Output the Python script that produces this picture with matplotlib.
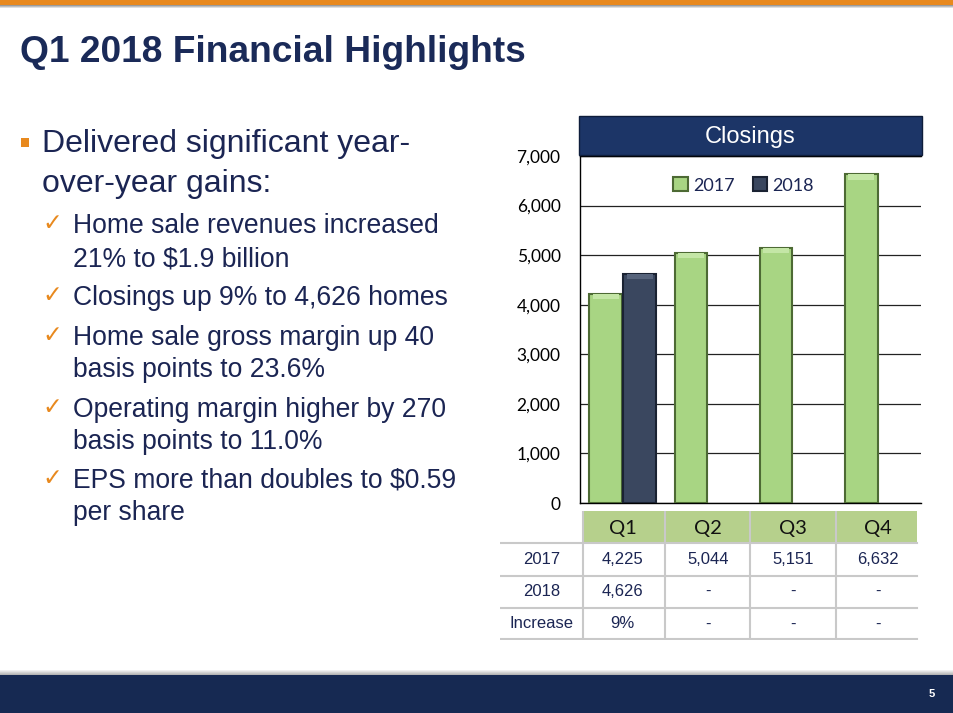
import numpy as np
import matplotlib
matplotlib.use("Agg")
import matplotlib.pyplot as plt
from matplotlib.patches import Rectangle

# data
quarters = ["Q1", "Q2", "Q3", "Q4"]
closings_2017 = [4225, 5044, 5151, 6632]
closings_2018 = [4626, None, None, None]
y_ticks = [0, 1000, 2000, 3000, 4000, 5000, 6000, 7000]

title = "Q1 2018 Financial Highlights"
main_bullet = ["Delivered significant year-", "over-year gains:"]
sub_bullets = [
    ["Home sale revenues increased", "21% to $1.9 billion"],
    ["Closings up 9% to 4,626 homes"],
    ["Home sale gross margin up 40", "basis points to 23.6%"],
    ["Operating margin higher by 270", "basis points to 11.0%"],
    ["EPS more than doubles to $0.59", "per share"],
]

NAVY = "#1b2553"
ORANGE = "#e8891e"
GREEN = "#a8d583"
GREEN_TOP = "#c4e6a6"
GREEN_EDGE = "#4d6a34"
DARK = "#3a475f"
DARK_TOP = "#56637b"
DARK_EDGE = "#1a2232"

W, H = 954, 713
fig = plt.figure(figsize=(W / 100, H / 100), dpi=100)
fig.patch.set_facecolor("white")


def fx(x):
    return x / W


def fy(y):
    return 1 - y / H


def frect(x0, y0, x1, y1, **kw):
    fig.patches.append(Rectangle((fx(x0), fy(y1)), fx(x1) - fx(x0), fy(y0) - fy(y1),
                                 transform=fig.transFigure, **kw))


# top orange band + shadow
frect(0, 0, W, 5, facecolor=ORANGE, edgecolor="none")
for i, c in enumerate(["#9a9a9a", "#bdbdbd", "#dedede"]):
    frect(0, 5 + i, W, 6 + i, facecolor=c, edgecolor="none")

# bottom navy band + shadow
for i, c in enumerate(["#f0f0f0", "#e2e2e2", "#d2d2d2", "#c4c4c4", "#b5b5b5"]):
    frect(0, 670 + i, W, 671 + i, facecolor=c, edgecolor="none")
frect(0, 675, W, H, facecolor="#162952", edgecolor="none")
fig.text(fx(932), fy(694), "5", color="white", fontsize=8, fontweight="bold",
         ha="center", va="center", family="Liberation Sans")

# title
fig.text(fx(20), fy(62), title, color="#1a2a58", fontsize=26.7, fontweight="bold",
         family="Liberation Sans", ha="left", va="baseline")

# bullets
frect(21, 138, 29, 147, facecolor=ORANGE, edgecolor="none")
main_y = [152, 192]
for txt, yb in zip(main_bullet, main_y):
    fig.text(fx(42), fy(yb), txt, color=NAVY, fontsize=23, family="Liberation Sans",
             ha="left", va="baseline")

sub_y = [[233, 266], [305], [345, 377], [417, 449], [488, 520]]
for lines, ys in zip(sub_bullets, sub_y):
    fig.text(fx(42), fy(ys[0] - 3), "\u2713", color=ORANGE, fontsize=17,
             family="DejaVu Sans", ha="left", va="baseline")
    for txt, yb in zip(lines, ys):
        fig.text(fx(73), fy(yb), txt, color=NAVY, fontsize=19.1, family="Liberation Sans",
                 ha="left", va="baseline")

# chart
ax = fig.add_axes([fx(580), fy(503), fx(921) - fx(580), fy(156) - fy(503)])
x = np.arange(len(quarters))
bw = 0.38
ax.bar(x - 0.2, closings_2017, width=bw, color=GREEN, edgecolor=GREEN_EDGE,
       linewidth=1.5, label="2017", zorder=3)
# bevel highlight on top of each bar
cap = 110
ax.bar(x - 0.2, [cap] * len(x), bottom=np.array(closings_2017) - cap, width=bw * 0.8,
       color=GREEN_TOP, edgecolor="none", zorder=4)
x18 = [xi for xi, v in zip(x, closings_2018) if v is not None]
v18 = [v for v in closings_2018 if v is not None]
ax.bar(np.array(x18) + 0.2, v18, width=bw, color=DARK, edgecolor=DARK_EDGE,
       linewidth=1.5, label="2018", zorder=3)
ax.bar(np.array(x18) + 0.2, [cap] * len(v18), bottom=np.array(v18) - cap, width=bw * 0.8,
       color=DARK_TOP, edgecolor="none", zorder=4)

ax.set_xlim(-0.5, 3.5)
ax.set_ylim(0, 7000)
ax.set_yticks(y_ticks)
ax.set_yticklabels([f"{t:,}" for t in y_ticks], fontsize=12.5, family="Lato")
ax.set_xticks([])
ax.tick_params(axis="y", length=0, pad=14)
ax.yaxis.grid(True, color="#222222", linewidth=0.9, zorder=0)
ax.set_axisbelow(True)
ax.spines["right"].set_visible(False)
for s in ["left", "bottom", "top"]:
    ax.spines[s].set_color("black")
    ax.spines[s].set_linewidth(1.0)

leg = ax.legend(loc="upper center", bbox_to_anchor=(0.48, 0.985), ncol=2, frameon=False,
                handlelength=0.8, handleheight=0.8, columnspacing=1.0,
                handletextpad=0.3, prop={"family": "Lato", "size": 13})
for t in leg.get_texts():
    t.set_color(NAVY)

# header box
frect(579, 116, 922, 155, facecolor="#1c3567", edgecolor="#0e1d3b", linewidth=1.0)
fig.text(fx(750), fy(137), "Closings", color="white", fontsize=17,
         family="Liberation Sans", ha="center", va="center")

# table below chart, aligned to the chart categories
px_per_unit = (921 - 580) / 4.0
left_unit = -0.5 - (580 - 500) / px_per_unit
tab = fig.add_axes([fx(500), fy(640), fx(921) - fx(500), fy(511) - fy(640)])
tab.set_xlim(left_unit, 3.5)
tab.set_ylim(4, 0)
tab.axis("off")
tab.add_patch(Rectangle((-0.47, 0), 3.92, 1, facecolor="#b6d08c", edgecolor="none"))
for i, q in enumerate(quarters):
    tab.text(i, 0.55, q, ha="center", va="center", fontsize=14.5, family="Lato",
             color="#111111")

line_c = "#c9c9c9"
for yy in [1, 2, 3, 3.97]:
    tab.plot([left_unit, 3.45], [yy, yy], color=line_c, linewidth=1.5)
for xx in [-0.47, 0.5, 1.5, 2.5]:
    tab.plot([xx, xx], [0, 3.97], color=line_c, linewidth=1.5)

row_labels = ["2017", "2018", "Increase"]
increase = [None if b is None else f"{int((b / a - 1) * 100)}%"
            for a, b in zip(closings_2017, closings_2018)]
rows = [
    [f"{v:,}" for v in closings_2017],
    ["-" if v is None else f"{v:,}" for v in closings_2018],
    ["-" if v is None else v for v in increase],
]
lab_x = (left_unit + -0.47) / 2
for r, (lab, vals) in enumerate(zip(row_labels, rows)):
    yc = r + 1.5
    tab.text(lab_x, yc, lab, ha="center", va="center", fontsize=12,
             family="Liberation Sans", color=NAVY)
    for i, v in enumerate(vals):
        tab.text(i, yc, v, ha="center", va="center", fontsize=12,
                 family="Liberation Sans", color=NAVY)

fig.savefig("out.png", dpi=100)
